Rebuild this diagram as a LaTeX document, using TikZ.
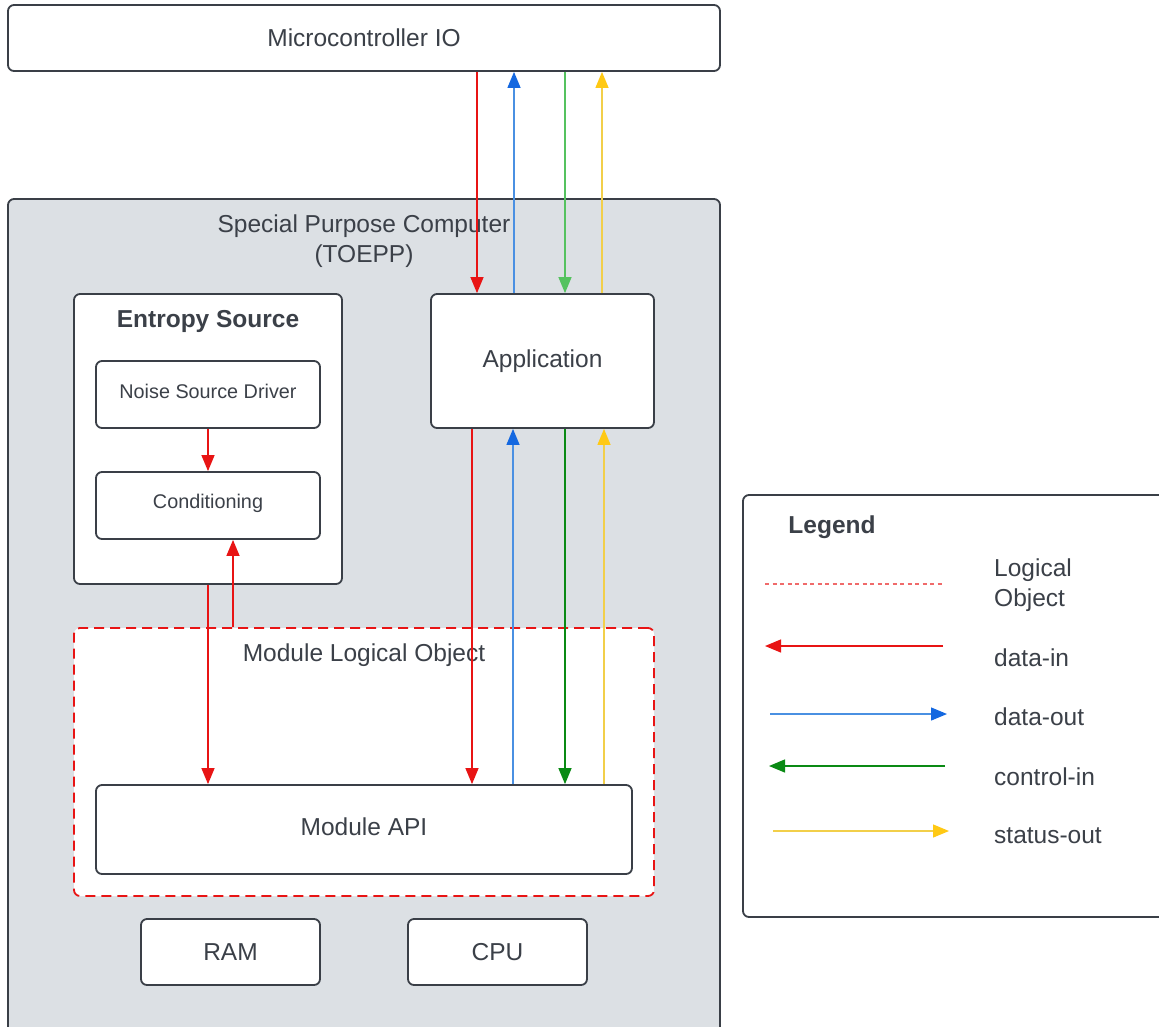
\documentclass[tikz,border=0pt]{standalone}
\usepackage{fontspec}
\setmainfont{Liberation Sans}
\usetikzlibrary{arrows.meta}
\definecolor{txt}{HTML}{3B4048}
\definecolor{bord}{HTML}{3A3F47}
\definecolor{grayfill}{HTML}{DCE0E4}
\definecolor{cred}{HTML}{E81414}
\definecolor{cblue}{HTML}{4A90E2}
\definecolor{cbluetip}{HTML}{1468E0}
\definecolor{cgreenlt}{HTML}{55C25F}
\definecolor{cgreen}{HTML}{0A8A14}
\definecolor{cyellow}{HTML}{F2CF4A}
\definecolor{cyellowtip}{HTML}{FFC914}
\definecolor{cdot}{HTML}{F06A6A}
\begin{document}
\begin{tikzpicture}[x=1pt,y=-1pt,
  font=\fontsize{24.5}{30}\selectfont, text=txt,
  box/.style={draw=bord, line width=1.8pt, rounded corners=6pt, fill=white, inner sep=0pt},
  small/.style={font=\fontsize{19.8}{24}\selectfont},
  tipdown/.style={-{Triangle[length=16pt,width=13pt,color=#1]}},
  din/.style={cred, line width=1.3pt, tipdown=cred},
  dout/.style={cblue, line width=1.3pt, tipdown=cbluetip},
  cinl/.style={cgreenlt, line width=1.3pt, tipdown=cgreenlt},
  cin/.style={cgreen, line width=1.3pt, tipdown=cgreen},
  sout/.style={cyellow, line width=1.3pt, tipdown=cyellowtip},
  lbl/.style={anchor=west, align=left, inner sep=0pt}
]
\useasboundingbox (0,0) rectangle (1159,1026);
\clip (0,0) rectangle (1159,1026);
\fill[white] (0,0) rectangle (1159,1026);

% Microcontroller IO
\node[box, minimum width=712pt, minimum height=66pt] (mcu) at (364,38) {Microcontroller IO};

% Special purpose computer
\node[box, fill=grayfill, minimum width=712pt, minimum height=841pt] (spc) at (364,619.5) {};
\node[align=center, inner sep=0pt] (spct) at (364,241) {Special Purpose Computer\\(TOEPP)};

% Entropy source
\node[box, minimum width=268pt, minimum height=290pt] (es) at (208,439) {};
\node[inner sep=0pt] (est) at (208,321) {\bfseries Entropy Source};
\node[box, small, minimum width=224pt, minimum height=67pt] (nsd) at (208,394.5) {};
\node[small, inner sep=0pt] (nsdt) at (208,391) {Noise Source Driver};
\node[box, small, minimum width=224pt, minimum height=67pt] (cond) at (208,505.5) {};
\node[small, inner sep=0pt] (condt) at (208,503) {Conditioning};

% Application
\node[box, minimum width=223pt, minimum height=134pt] (app) at (542.5,361) {Application};

% Module logical object
\node[draw=cred, line width=1.8pt, dash pattern=on 10pt off 6pt, rounded corners=6pt, fill=white,
      minimum width=580pt, minimum height=268pt, inner sep=0pt] (mlo) at (364,762) {};
\node[inner sep=0pt] (mlot) at (364,655) {Module Logical Object};
\node[box, minimum width=536pt, minimum height=89pt] (api) at (364,829.5) {};
\node[inner sep=0pt] (apit) at (364,827) {Module API};

% RAM / CPU
\node[box, minimum width=179pt, minimum height=66pt] (ram) at (230.5,952) {RAM};
\node[box, minimum width=179pt, minimum height=66pt] (cpu) at (497.5,952) {CPU};

% Connectors MCU <-> Application
\draw[din]  (mcu.south -| 477,0) -- (app.north -| 477,0);
\draw[dout] (app.north -| 514,0) -- (mcu.south -| 514,0);
\draw[cinl] (mcu.south -| 565,0) -- (app.north -| 565,0);
\draw[sout] (app.north -| 602,0) -- (mcu.south -| 602,0);

% Connectors Application <-> Module API
\draw[din]  (app.south -| 472,0) -- (api.north -| 472,0);
\draw[dout] (api.north -| 513,0) -- (app.south -| 513,0);
\draw[cin]  (app.south -| 565,0) -- (api.north -| 565,0);
\draw[sout] (api.north -| 604,0) -- (app.south -| 604,0);

% Entropy source connectors
\draw[din] (nsd.south) -- (cond.north);
\draw[din] (es.south) -- (api.north -| es.south);
\draw[din] (mlo.north -| 233,0) -- (cond.south -| 233,0);

% Legend
\node[box, minimum width=432pt, minimum height=422pt] (leg) at (959,706) {};
\node[inner sep=0pt] (legt) at (832,527) {\bfseries Legend};
\coordinate (l1a) at (765,584); \coordinate (l1b) at (943,584);
\draw[cdot, line width=1.2pt, dash pattern=on 4pt off 3.5pt] (l1a) -- (l1b);
\node[lbl] (l1t) at (994,585) {Logical\\Object};
\coordinate (l2a) at (943,646); \coordinate (l2b) at (765,646);
\draw[din] (l2a) -- (l2b);
\node[lbl] (l2t) at (994,658) {data-in};
\coordinate (l3a) at (770,714); \coordinate (l3b) at (947,714);
\draw[dout] (l3a) -- (l3b);
\node[lbl] (l3t) at (994,717) {data-out};
\coordinate (l4a) at (945,766); \coordinate (l4b) at (769,766);
\draw[cin] (l4a) -- (l4b);
\node[lbl] (l4t) at (994,777) {control-in};
\coordinate (l5a) at (773,831); \coordinate (l5b) at (949,831);
\draw[sout] (l5a) -- (l5b);
\node[lbl] (l5t) at (994,836) {status-out};
\end{tikzpicture}
\end{document}
